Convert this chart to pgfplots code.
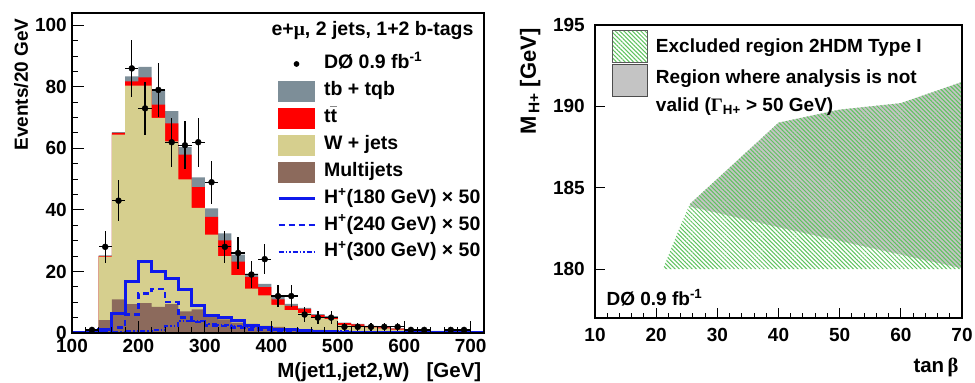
\documentclass[border=0pt]{standalone}
\usepackage{fontspec}
\setmainfont{Liberation Sans}
\newfontfamily\symfont{Liberation Serif}
\usepackage{pgfplots}
\pgfplotsset{compat=1.18}
\usepackage{pgfplotstable}
\usetikzlibrary{patterns,patterns.meta}

\definecolor{tbgray}{RGB}{125,142,152}
\definecolor{ttred}{RGB}{255,0,0}
\definecolor{wjets}{RGB}{214,207,142}
\definecolor{mjbrown}{RGB}{140,106,92}
\definecolor{hblue}{RGB}{15,25,235}
\definecolor{hatchgreen}{RGB}{95,195,95}
\definecolor{validgray}{RGB}{196,196,196}

\newcommand{\F}{\fontsize{19}{22}\selectfont\bfseries}
\newcommand{\FG}{\fontsize{19.5}{22}\selectfont\bfseries}
\newcommand{\FX}{\fontsize{20.5}{24}\selectfont\bfseries}
\newcommand{\FL}{\fontsize{19}{28}\selectfont\bfseries}

% cumulative stack tops, bin lower edges (GeV)
\pgfplotstableread{
x   mj   wtop  ttop  tbtop
140 4.2  24.8  25.0  25.2
160 10.9 64.5  65.0  65.3
180 9.4  80.4  81.8  83.4
200 9.7  80.4  83.1  86.5
220 8.5  69.9  74.2  78.8
240 9.4  62.3  68.1  72.1
260 7.0  49.9  58.0  60.4
280 7.7  40.7  47.4  50.6
300 5.2  32.0  37.7  40.5
320 4.4  25.0  30.1  32.4
340 3.4  18.8  23.2  25.5
360 3.0  14.4  18.2  19.3
380 2.3  12.2  14.9  16.0
400 2.0  9.1   10.9  11.7
420 1.5  7.4   8.8   9.5
440 1.2  6.5   7.8   8.2
460 1.0  5.0   5.8   6.1
480 0.8  4.5   5.2   5.5
500 0.6  2.6   3.2   3.4
520 0.5  2.3   2.8   3.0
540 0.4  1.8   2.2   2.3
560 0.3  1.5   1.8   2.0
580 0.3  1.1   1.4   1.5
600 0.2  0.8   1.0   1.1
620 0.2  0.7   0.9   1.0
640 0.1  0.5   0.6   0.7
660 0.1  0.35  0.45  0.5
680 0.1  0.3   0.35  0.4
700 0.05 0.2   0.25  0.3
720 0.05 0.2   0.25  0.3
}\stacktab

% charged Higgs signals x50
\pgfplotstableread{
x   h180 h240 h300
100 0.1  0.1  0.1
120 0.1  0.1  0.1
140 1.2  0.5  0.2
160 6.2  1.8  0.4
180 16.6 6.0  0.6
200 23.3 12.8 0.7
220 19.9 14.3 0.9
240 17.8 10.1 2.3
260 14.2 5.0  3.9
280 9.0  3.5  3.9
300 5.6  2.4  3.0
320 5.0  2.3  2.5
340 4.2  1.8  2.2
360 2.3  1.2  2.0
380 1.7  1.0  1.7
400 1.2  0.8  1.4
420 1.0  0.7  1.2
440 0.7  0.6  1.0
460 0.5  0.5  0.8
480 0.4  0.4  0.6
500 0.3  0.3  0.5
520 0.3  0.3  0.4
540 0.2  0.2  0.3
560 0.2  0.2  0.3
580 0.1  0.1  0.2
600 0.1  0.1  0.2
620 0.1  0.1  0.1
640 0.1  0.1  0.1
660 0.1  0.1  0.1
680 0.1  0.1  0.1
700 0.1  0.1  0.1
720 0.1  0.1  0.1
}\htab

% data
\pgfplotstableread{
x   n  ex ey
130 1  10 1.0
150 28 10 5.3
170 43 10 6.6
190 86 10 9.3
210 73 10 8.5
230 79 10 8.9
250 62 10 7.9
270 61 10 7.8
290 62 10 7.9
310 49 10 7.0
330 28 10 5.3
350 26 10 5.1
370 19 10 4.4
390 24 10 4.9
410 12 10 3.5
430 12 10 3.5
450 6  10 2.4
470 5  10 2.2
490 5  10 2.2
510 2  10 1.4
530 2  10 1.4
550 2  10 1.4
570 2  10 1.4
590 2  10 1.4
610 1  10 1.0
630 1  10 1.0
670 1  10 1.0
690 1  10 1.0
}\datatab

\begin{document}
\begin{tikzpicture}
\path[use as bounding box] (0,0) rectangle (975pt,383pt);

\begin{axis}[
  at={(72pt,50pt)}, anchor=south west,
  scale only axis, width=412pt, height=320pt,
  xmin=100, xmax=720, ymin=0, ymax=104,
  xtick={100,200,...,700}, ytick={0,20,...,100},
  minor x tick num=4, minor y tick num=3,
  tick align=inside, tick pos=left,
  major tick length=12pt, minor tick length=6pt,
  axis line style={line width=1.3pt},
  every tick/.append style={black, line width=1pt},
  tick label style={font=\F},
  /pgf/number format/assume math mode=true,
  yticklabel style={inner sep=0pt, xshift=-5pt},
  xticklabel style={inner sep=0pt, yshift=-6.5pt},
  axis on top,
  xlabel={M(jet1,jet2,W)\ \ \ [GeV]},
  xlabel style={font=\FX, at={(axis description cs:1.002,-0.1406)}, anchor=base east},
  ylabel={Events/20 GeV},
  ylabel style={font=\F, at={(axis description cs:-0.107,0.994)}, anchor=base east},
  legend cell align=left,
  legend style={at={(rel axis cs:0.4976,0.872)}, anchor=north west,
    draw=none, fill=none, inner sep=0pt, outer sep=0pt, font=\FG,
    row sep=6.6pt, column sep=8pt,
    nodes={inner sep=0pt, text height=15pt, text depth=5pt}},
]
\addplot[const plot, fill=tbgray, draw=none, forget plot] table[x=x,y=tbtop]{\stacktab} \closedcycle;
\addplot[const plot, fill=ttred, draw=none, forget plot] table[x=x,y=ttop]{\stacktab} \closedcycle;
\addplot[const plot, fill=wjets, draw=none, forget plot] table[x=x,y=wtop]{\stacktab} \closedcycle;
\addplot[const plot, fill=mjbrown, draw=none, forget plot] table[x=x,y=mj]{\stacktab} \closedcycle;

\addplot[const plot, hblue, line width=3pt, forget plot] table[x=x,y=h180]{\htab};
\addplot[const plot, hblue, line width=2.5pt, dash pattern=on 6pt off 4pt, forget plot] table[x=x,y=h240]{\htab};
\addplot[const plot, hblue, line width=2pt, dash pattern=on 5pt off 2pt on 1.5pt off 2pt on 1.5pt off 2pt, forget plot] table[x=x,y=h300]{\htab};

\addplot[only marks, mark=*, mark size=3pt, black, forget plot,
  error bars/.cd, x dir=both, x explicit, y dir=both, y explicit,
  error bar style={line width=1.3pt, black}, error mark=none]
  table[x=x, y=n, x error=ex, y error=ey]{\datatab};

\addlegendimage{legend image code/.code={\fill[black] (18pt,0pt) circle (2.6pt);}}
\addlegendentry{DØ 0.9 fb\textsuperscript{-1}}
\addlegendimage{legend image code/.code={\fill[tbgray] (0pt,-10pt) rectangle (36pt,10pt);}}
\addlegendentry{tb + tqb}
\addlegendimage{legend image code/.code={\fill[ttred] (0pt,-10pt) rectangle (36pt,10pt);}}
\addlegendentry{t\ensuremath{\bar{\mbox{t}}}}
\addlegendimage{legend image code/.code={\fill[wjets] (0pt,-10pt) rectangle (36pt,10pt);}}
\addlegendentry{W + jets}
\addlegendimage{legend image code/.code={\fill[mjbrown] (0pt,-10pt) rectangle (36pt,10pt);}}
\addlegendentry{Multijets}
\addlegendimage{legend image code/.code={\draw[hblue, line width=3pt] (0pt,0pt) -- (36pt,0pt);}}
\addlegendentry{H\textsuperscript{+}(180 GeV) × 50}
\addlegendimage{legend image code/.code={\draw[hblue, line width=2.5pt, dash pattern=on 6pt off 4pt] (0pt,0pt) -- (36pt,0pt);}}
\addlegendentry{H\textsuperscript{+}(240 GeV) × 50}
\addlegendimage{legend image code/.code={\draw[hblue, line width=2pt, dash pattern=on 5pt off 2pt on 1.5pt off 2pt on 1.5pt off 2pt] (0pt,0pt) -- (36pt,0pt);}}
\addlegendentry{H\textsuperscript{+}(300 GeV) × 50}

\node[anchor=base east, font=\FG] at (rel axis cs:0.983,0.931) {e+{\symfont μ}, 2 jets, 1+2 b-tags};
\end{axis}

\begin{axis}[
  at={(595pt,65pt)}, anchor=south west,
  scale only axis, width=367pt, height=293pt,
  xmin=10, xmax=70, ymin=177, ymax=195,
  xtick={10,20,...,70}, ytick={180,185,190,195},
  minor x tick num=4,
  tick align=inside, tick pos=left,
  major tick length=10pt, minor tick length=5pt,
  axis line style={line width=1.3pt},
  every tick/.append style={black, line width=1pt},
  tick label style={font=\F},
  /pgf/number format/assume math mode=true,
  yticklabel style={inner sep=0pt, xshift=-10pt},
  xticklabel style={inner sep=0pt, yshift=-10pt},
  axis on top,
  xlabel={tan\,{\symfont β}},
  xlabel style={font=\FX, at={(axis description cs:1,-0.1877)}, anchor=base east},
  ylabel={M\textsubscript{\,H+} [GeV]},
  ylabel style={font=\fontsize{22}{24}\selectfont\bfseries, at={(axis description cs:-0.1608,1)}, anchor=base east},
  legend cell align=left,
  legend style={at={(rel axis cs:0.0463,0.983)}, anchor=north west,
    draw=none, fill=none, inner sep=0pt, outer sep=0pt, font=\FL,
    row sep=1pt, column sep=8pt,
    nodes={inner sep=0pt}},
]
\addplot[fill=validgray, draw=none, forget plot] coordinates
  {(25.5,184.0) (40,189.0) (50,189.8) (60,190.2) (70,191.5) (70,180.05) (39.7,182.6) (25.5,183.85)};
\addplot[pattern={Lines[angle=-45,distance=3pt,line width=1pt]}, pattern color=hatchgreen, draw=none, forget plot] coordinates
  {(21.1,180) (23.9,182.6) (25.5,184.0) (40,189.0) (50,189.8) (60,190.2) (70,191.5) (70,180)};

\addlegendimage{legend image code/.code={\draw[draw=gray!70!black, line width=1pt, pattern={Lines[angle=-45,distance=3pt,line width=1pt]}, pattern color=hatchgreen] (0pt,-16pt) rectangle (35pt,16pt);}}
\addlegendentry{Excluded region 2HDM Type I}
\addlegendimage{legend image code/.code={\draw[draw=gray!60!black, line width=1pt, fill=validgray] (0pt,-16pt) rectangle (35pt,16pt);}}
\addlegendentry{\begin{tabular}{@{}l@{}}Region where analysis is not\\valid ({\symfont Γ}\textsubscript{H+} > 50 GeV)\end{tabular}}

\node[anchor=base west, font=\F] at (rel axis cs:0.022,0.044) {DØ 0.9 fb\textsuperscript{-1}};
\end{axis}
\end{tikzpicture}
\end{document}
